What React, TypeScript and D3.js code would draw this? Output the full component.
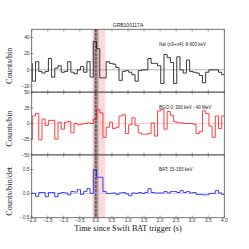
import React, { useEffect, useRef } from "react";
import * as d3 from "d3";

// bin edges: 0.1 s bins, first one partly outside the axis
const binStarts = d3.range(61).map((k) => -2.08 + 0.1 * k);
const binEnd = 4.02;

const naiCounts = [
  8, -14, 10, -2, -4, -2, 14, -9, 2, 5,
  -3, -2, 10, -3, -5, 0, 4, -3, 10, -9,
  35, 26, -10, -10, 10, 8, 7, 3, -13, -2,
  -1, -3, -6, -14, -1, 0, 0, 14, 8, 8,
  5, -17, 19, 15, 9, -17, 16, 0, -4, 12,
  -2, -3, -4, -7, -16, -3, 0, 0, 0, -3, -6,
];
const bgoCounts = [
  -25, 12, 16, -26, 7, -3, 5, 5, -25, 2,
  -9, 2, 3, -15, 0, -2, -1, 0, 1, 0,
  7, 22, 17, -22, -6, 2, -8, -6, 12, 14,
  -16, -2, 9, -3, -15, -17, -17, -16, 1, -20,
  20, 22, -9, 19, 13, 3, 1, 1, 0, 0,
  0, -1, -16, -13, 20, 16, -4, -22, 12, -8, 12,
];
const batCounts = [
  0.01, 0.0, -0.06, 0.02, 0.02, -0.07, 0.02, 0.02, -0.07, 0.0,
  0.02, 0.01, -0.03, 0.04, 0.03, 0.08, -0.02, 0.04, 0.1, 0.0,
  0.5, 0.34, 0.34, 0.04, 0.0, 0.0, 0.01, -0.02, 0.01, 0.02,
  -0.01, -0.05, 0.01, 0.0, 0.02, 0.0, 0.02, 0.1, 0.02, 0.01,
  0.01, 0.01, 0.04, 0.01, 0.04, 0.04, 0.02, 0.06, 0.02, 0.04,
  0.01, 0.02, -0.02, -0.02, -0.03, -0.03, 0.0, 0.0, 0.06, 0.01, -0.02,
];

const xTicks = [-2.0, -1.5, -1.0, -0.5, 0.0, 0.5, 1.0, 1.5, 2.0, 2.5, 3.0, 3.5, 4.0];
const pinkBand = [-0.12, 0.29];
const grayBand = [-0.064, 0.08];

const panels = [
  { label: "Counts/bin", legend: "NaI (n3+n4): 8-900 keV", values: naiCounts, domain: [-27.5, 50], ticks: [-20, 0, 20, 40], fmt: "d", color: "#222222", zero: "#9a9a9a" },
  { label: "Counts/bin", legend: "BGO 0: 300 keV - 40 MeV", values: bgoCounts, domain: [-50, 50], ticks: [-50, -25, 0, 25, 50], fmt: "d", color: "#ff2a2a", zero: "#ffb8b8" },
  { label: "Counts/bin/det", legend: "BAT: 15-150 keV", values: batCounts, domain: [-0.51, 0.81], ticks: [-0.5, 0, 0.5], fmt: ".1f", color: "#2a2aff", zero: "#b8b8ff" },
];

const App = () => {
  const ref = useRef<SVGSVGElement>(null);

  useEffect(() => {
    const svg = d3.select(ref.current);
    svg.selectAll("*").remove();

    const left = 31.7;
    const right = 224.3;
    const top = 29.3;
    const panelH = 62.8;
    const frameColor = "#555";

    const x = d3.scaleLinear().domain([-2, 4]).range([left, right]);

    svg.append("clipPath").attr("id", "plotclip")
      .append("rect")
      .attr("x", left).attr("y", top)
      .attr("width", right - left).attr("height", panelH * 3);

    // shaded intervals
    svg.append("rect")
      .attr("x", x(pinkBand[0])).attr("y", top)
      .attr("width", x(pinkBand[1]) - x(pinkBand[0]))
      .attr("height", panelH * 3)
      .attr("fill", "#ffb3b3").attr("opacity", 0.5);
    svg.append("rect")
      .attr("x", x(grayBand[0])).attr("y", top)
      .attr("width", x(grayBand[1]) - x(grayBand[0]))
      .attr("height", panelH * 3)
      .attr("fill", "#555").attr("opacity", 0.48);

    panels.forEach((p, i) => {
      const y0 = top + i * panelH;
      const y = d3.scaleLinear().domain(p.domain).range([y0 + panelH, y0]);
      const g = svg.append("g");

      g.append("line")
        .attr("x1", left).attr("x2", right)
        .attr("y1", y(0)).attr("y2", y(0))
        .attr("stroke", p.zero).attr("stroke-width", 0.7);

      const pts: [number, number][] = binStarts.map((t, k) => [t, p.values[k]]);
      pts.push([binEnd, p.values[p.values.length - 1]]);
      const line = d3.line<[number, number]>()
        .x((d) => x(d[0]))
        .y((d) => y(d[1]))
        .curve(d3.curveStepAfter);
      g.append("path")
        .attr("d", line(pts))
        .attr("fill", "none")
        .attr("stroke", p.color)
        .attr("stroke-width", 0.9)
        .attr("clip-path", "url(#plotclip)");

      // frame
      g.append("rect")
        .attr("x", left).attr("y", y0)
        .attr("width", right - left).attr("height", panelH)
        .attr("fill", "none").attr("stroke", frameColor).attr("stroke-width", 0.8);

      // x ticks inward, top and bottom
      xTicks.forEach((t) => {
        g.append("line")
          .attr("x1", x(t)).attr("x2", x(t))
          .attr("y1", y0 + panelH).attr("y2", y0 + panelH - 2.2)
          .attr("stroke", frameColor).attr("stroke-width", 0.6);
        g.append("line")
          .attr("x1", x(t)).attr("x2", x(t))
          .attr("y1", y0).attr("y2", y0 + 2.2)
          .attr("stroke", frameColor).attr("stroke-width", 0.6);
      });

      // y ticks
      const fmt = d3.format(p.fmt);
      p.ticks.forEach((v) => {
        g.append("line")
          .attr("x1", left - 1.5).attr("x2", left + 1.5)
          .attr("y1", y(v)).attr("y2", y(v))
          .attr("stroke", frameColor).attr("stroke-width", 0.6);
        g.append("text")
          .attr("x", left - 2.2).attr("y", y(v) + 1.7)
          .attr("text-anchor", "end")
          .style("font-family", "Liberation Sans")
          .style("font-size", "4.8px")
          .style("fill", "#333")
          .text(fmt(v));
      });

      g.append("text")
        .attr("x", 159).attr("y", y0 + 16.4)
        .style("font-family", "Liberation Sans")
        .style("font-size", "4.5px")
        .style("fill", "#222")
        .text(p.legend);

      g.append("text")
        .attr("transform", "translate(12," + (y0 + panelH / 2 + 5) + ") rotate(-90)")
        .attr("text-anchor", "middle")
        .style("font-family", "Liberation Serif")
        .style("font-size", "8.3px")
        .style("fill", "#222")
        .text(p.label);
    });

    // trigger time
    svg.append("line")
      .attr("x1", x(0)).attr("x2", x(0))
      .attr("y1", top).attr("y2", top + panelH * 3)
      .attr("stroke", "#111").attr("stroke-width", 0.8)
      .attr("stroke-dasharray", "2.5,1.5");

    const bottom = top + panelH * 3;
    xTicks.forEach((t) => {
      svg.append("text")
        .attr("x", x(t)).attr("y", bottom + 4.5)
        .attr("text-anchor", "middle")
        .style("font-family", "Liberation Sans")
        .style("font-size", "4.8px")
        .style("fill", "#333")
        .text(d3.format(".1f")(t));
    });

    svg.append("text")
      .attr("x", (left + right) / 2).attr("y", bottom + 13.5)
      .attr("text-anchor", "middle")
      .style("font-family", "Liberation Serif")
      .style("font-size", "8.2px")
      .style("fill", "#111")
      .text("Time since Swift BAT trigger (s)");

    svg.append("text")
      .attr("x", (left + right) / 2).attr("y", top - 2)
      .attr("text-anchor", "middle")
      .style("font-family", "Liberation Sans")
      .style("font-size", "5px")
      .style("fill", "#222")
      .text("GRB100117A");
  }, []);

  return (
    <svg
      ref={ref}
      width={249}
      height={249}
      style={{ position: "absolute", left: 0, top: 0, background: "white" }}
    />
  );
};

export default App;
